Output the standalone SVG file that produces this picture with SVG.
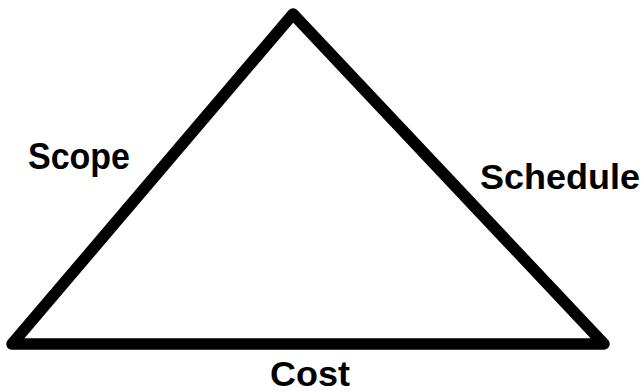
<svg xmlns="http://www.w3.org/2000/svg" width="644" height="392" viewBox="0 0 644 392">
<style>
.edge{fill:none;stroke:#000;stroke-width:11.5;stroke-linejoin:round;stroke-linecap:round}
.lbl{font-family:"Liberation Sans",Arial,sans-serif;font-weight:bold;fill:#000}
</style>
<rect width="644" height="392" fill="#fff"/>
<g id="connectors">
<polygon class="edge" points="293,14 12,344 604,344"/>
</g>
<g id="scope"><text class="lbl" x="28" y="169" font-size="36" textLength="102" lengthAdjust="spacingAndGlyphs">Scope</text></g>
<g id="schedule"><text class="lbl" x="480" y="189" font-size="35" textLength="160" lengthAdjust="spacingAndGlyphs">Schedule</text></g>
<g id="cost"><text class="lbl" x="270" y="386" font-size="34.5" textLength="80" lengthAdjust="spacingAndGlyphs">Cost</text></g>
</svg>
